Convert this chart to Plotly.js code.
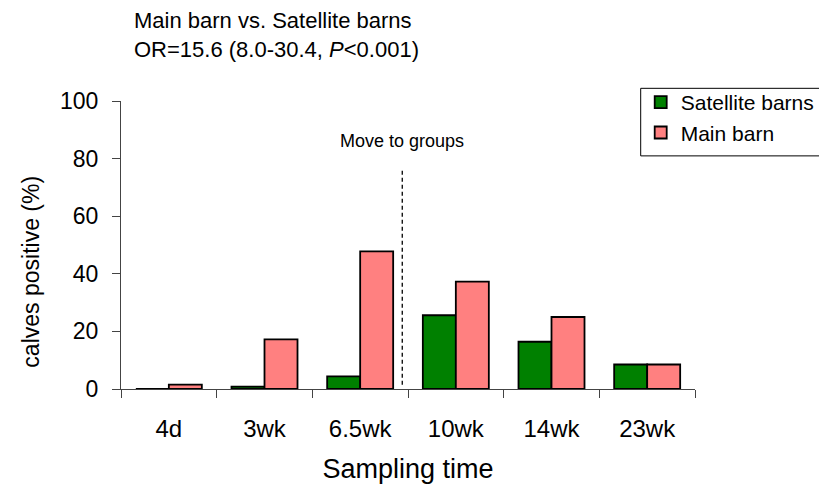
<!DOCTYPE html>
<html>
<head>
<meta charset="utf-8">
<script src="https://cdn.plot.ly/plotly-3.0.1.min.js"></script>
<style>html,body{margin:0;padding:0;background:#fff;}#chart{width:819px;height:491px;}</style>
</head>
<body>
<div id="chart"></div>
<script>
const categories = ["4d", "3wk", "6.5wk", "10wk", "14wk", "23wk"];
const satelliteBarns = [0, 0.8, 4.4, 25.6, 16.4, 8.5];
const mainBarn = [1.5, 17.2, 47.8, 37.3, 25.0, 8.5];
const seriesNames = ["Satellite barns", "Main barn"];
const yTicks = [0, 20, 40, 60, 80, 100];

const font = "Liberation Sans, Arial, sans-serif";

const traces = [
  {type: "bar", name: seriesNames[0], x: categories, y: satelliteBarns,
   marker: {color: "#008000", line: {color: "#000", width: 1.8}}},
  {type: "bar", name: seriesNames[1], x: categories, y: mainBarn,
   marker: {color: "#ff8080", line: {color: "#000", width: 1.8}}}
];

const plotTop = 101, plotH = 288.6, plotL = 121, plotW = 574;
const py = (px) => (plotTop + plotH - px) / plotH;
const pxX = (px) => (px - plotL) / plotW;

const layout = {
  width: 819, height: 491,
  margin: {l: 121, r: 124, t: 101, b: 102, autoexpand: false},
  paper_bgcolor: "#fff", plot_bgcolor: "#fff",
  font: {family: font, color: "#000"},
  barmode: "group", bargap: 0.31, bargroupgap: 0,
  showlegend: true,
  xaxis: {
    type: "category", tickson: "boundaries",
    showline: true, linecolor: "#444", linewidth: 1,
    ticks: "outside", ticklen: 8, tickcolor: "#444",
    showgrid: false, zeroline: false,
    tickfont: {family: font, size: 24, color: "#000"},
    ticklabelstandoff: 18,
    title: {text: "Sampling time", font: {family: font, size: 27, color: "#000"}, standoff: 18}
  },
  yaxis: {
    range: [0, 100], tickvals: yTicks,
    showline: true, linecolor: "#444", linewidth: 1,
    ticks: "outside", ticklen: 8, tickcolor: "#444",
    showgrid: false, zeroline: false,
    tickfont: {family: font, size: 23, color: "#000"},
    ticklabelstandoff: 9
  },
  legend: {
    x: pxX(640.7), xanchor: "left", xref: "paper",
    y: py(82), yanchor: "top",
    borderwidth: 0, bgcolor: "rgba(0,0,0,0)",
    font: {family: font, size: 21, color: "#000"},
    traceorder: "normal", itemwidth: 30
  },
  shapes: [
    {type: "line", xref: "x", yref: "y",
     x0: 2.44, x1: 2.44, y0: 1.5, y1: 76,
     line: {color: "#000", width: 1.3, dash: "4px,3px"}},
    {type: "rect", xref: "paper", yref: "paper",
     x0: pxX(640.7), x1: pxX(830), y0: py(156), y1: py(88.3),
     line: {color: "#000", width: 1}, fillcolor: "rgba(0,0,0,0)"}
  ],
  annotations: [
    {text: "Main barn vs. Satellite barns<br>OR=15.6 (8.0-30.4, <i>P</i><0.001)",
     xref: "paper", yref: "paper", x: pxX(132), y: py(6),
     xanchor: "left", yanchor: "top", align: "left", showarrow: false,
     font: {family: font, size: 22, color: "#000"}},
    {text: "calves positive (%)", xref: "paper", yref: "paper",
     x: pxX(31), y: py(272), xanchor: "center", yanchor: "middle",
     textangle: -90, showarrow: false,
     font: {family: font, size: 23, color: "#000"}},
    {text: "Move to groups", xref: "x", yref: "y", x: 2.44, y: 86,
     showarrow: false, font: {family: font, size: 18, color: "#000"}}
  ]
};

Plotly.newPlot("chart", traces, layout, {displayModeBar: false, staticPlot: true});
</script>
</body>
</html>
